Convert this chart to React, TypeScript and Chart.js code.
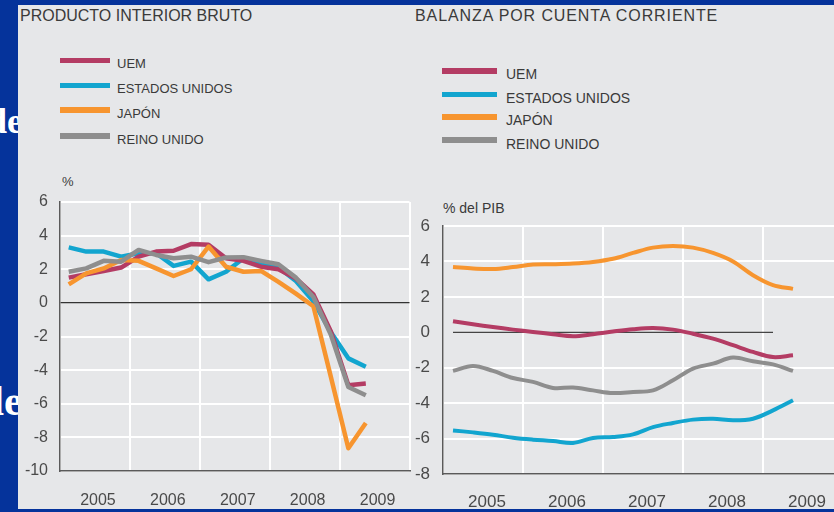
import React, { useEffect, useRef } from 'react';
import { Chart, registerables } from 'chart.js';

Chart.register(...registerables);

// ---------- data ----------
const yearLabels = ['2005', '2006', '2007', '2008', '2009'];
const seriesNames = ['UEM', 'ESTADOS UNIDOS', 'JAPÓN', 'REINO UNIDO'];
const seriesColors = ['#b43c64', '#12a5cf', '#f7952f', '#8e8e8e'];

// Producto interior bruto, % (trimestral, 2005 T1 - 2009 T2)
const pibUEM = [1.5, 1.7, 1.9, 2.1, 2.75, 3.05, 3.1, 3.5, 3.45, 2.65, 2.5, 2.15, 2.0, 1.45, 0.5, -1.7, -4.9, -4.8];
const pibEEUU = [3.3, 3.05, 3.05, 2.75, 2.95, 2.95, 2.2, 2.45, 1.4, 1.85, 2.65, 2.4, 2.1, 1.3, 0.1, -1.75, -3.3, -3.8];
const pibJapon = [1.1, 1.75, 2.05, 2.55, 2.5, 2.05, 1.6, 2.0, 3.35, 2.15, 1.85, 1.9, 1.25, 0.55, -0.2, -4.4, -8.65, -7.15];
const pibReinoUnido = [1.85, 2.05, 2.5, 2.45, 3.15, 2.85, 2.65, 2.75, 2.42, 2.7, 2.72, 2.5, 2.3, 1.5, 0.35, -1.9, -5.0, -5.5];

// Balanza por cuenta corriente, % del PIB
const cuentaUEM = [0.62, 0.45, 0.3, 0.15, 0.02, -0.11, -0.22, -0.11, 0.04, 0.17, 0.24, 0.15, -0.08, -0.36, -0.73, -1.11, -1.4, -1.3];
const cuentaEEUU = [-5.54, -5.65, -5.78, -5.95, -6.06, -6.14, -6.25, -5.97, -5.91, -5.76, -5.35, -5.12, -4.93, -4.88, -4.97, -4.88, -4.41, -3.84];
const cuentaJapon = [3.68, 3.6, 3.57, 3.68, 3.82, 3.84, 3.88, 3.97, 4.15, 4.48, 4.78, 4.87, 4.78, 4.48, 4.0, 3.22, 2.66, 2.45];
const cuentaReinoUnido = [-2.18, -1.9, -2.18, -2.58, -2.8, -3.14, -3.12, -3.28, -3.43, -3.37, -3.28, -2.71, -2.05, -1.77, -1.43, -1.64, -1.81, -2.18];
const cuentaLineaCero = [0, 0, 0, 0, 0, 0, 0, 0, 0, 0, 0, 0, 0, 0, 0, 0, 0];

const pibYRange = [-10, 6];
const cuentaYRange = [-8, 6];
const quartersShown = 20;

// ---------- styles ----------
const NAVY = '#05339b';
const PANEL = '#e6e7e9';
const TEXT = '#3a3a3a';
const TICK = '#4a4a4a';
const AXIS = '#5a5a5a';
const FONT = '"Liberation Sans", Arial, Helvetica, sans-serif';

Chart.defaults.font.family = FONT;

function makeDatasets(series: number[][], width: number, tension: number) {
  const drawOrder = [3, 4, 2, 1];
  return series.map((vals, k) => ({
    label: seriesNames[k],
    data: vals.map((v, i) => ({ x: i + 0.5, y: v })),
    borderColor: seriesColors[k],
    backgroundColor: seriesColors[k],
    borderWidth: width,
    pointRadius: 0,
    pointHoverRadius: 0,
    pointBorderWidth: 0,
    tension,
    order: drawOrder[k],
    borderJoinStyle: 'round',
    fill: false,
  }));
}

type Opt = {
  yMin: number;
  yMax: number;
  zeroColor: string;
  zeroWidth: number;
  fontSize: number;
  yWidth: number;
  xHeight: number;
  xPad: number;
  yPad: number;
  padRight: number;
  labelOffset: number;
};

function clearPadding(s: any) {
  s.paddingTop = 0;
  s.paddingBottom = 0;
  s.paddingLeft = 0;
  s.paddingRight = 0;
}

function makeOptions(p: Opt) {
  return {
    responsive: false,
    maintainAspectRatio: false,
    animation: false,
    events: [],
    layout: { autoPadding: false, padding: { top: 12, right: p.padRight, bottom: 0, left: 0 } },
    plugins: {
      legend: { display: false },
      tooltip: { enabled: false },
      title: { display: false },
    },
    scales: {
      x: {
        type: 'linear',
        min: 0,
        max: quartersShown,
        afterFit: (s: any) => {
          s.height = p.xHeight;
          clearPadding(s);
        },
        grid: {
          color: (ctx: any) => (ctx.tick && ctx.tick.value % 4 === 0 ? '#ffffff' : 'rgba(0,0,0,0)'),
          lineWidth: 2,
          drawTicks: false,
        },
        border: { display: true, color: AXIS, width: 1.5 },
        ticks: {
          stepSize: 2,
          autoSkip: false,
          maxRotation: 0,
          minRotation: 0,
          padding: p.xPad,
          labelOffset: p.labelOffset,
          color: TICK,
          font: { size: p.fontSize },
          callback: (value: any) => {
            const v = Number(value);
            return v % 4 === 2 ? yearLabels[(v - 2) / 4] : '';
          },
        },
      },
      y: {
        type: 'linear',
        min: p.yMin,
        max: p.yMax,
        afterFit: (s: any) => {
          s.width = p.yWidth;
          clearPadding(s);
        },
        grid: {
          color: (ctx: any) => (ctx.tick && ctx.tick.value === 0 ? p.zeroColor : '#ffffff'),
          lineWidth: (ctx: any) => (ctx.tick && ctx.tick.value === 0 ? p.zeroWidth : 2),
          drawTicks: false,
        },
        border: { display: true, color: AXIS, width: 1.5 },
        ticks: {
          stepSize: 2,
          autoSkip: false,
          padding: p.yPad,
          color: TICK,
          font: { size: p.fontSize },
        },
      },
    },
  };
}

function ChartCanvas(props: { config: () => any; left: number; top: number; width: number; height: number }) {
  const ref = useRef<HTMLCanvasElement | null>(null);
  useEffect(() => {
    if (!ref.current) return;
    const chart = new Chart(ref.current, props.config());
    return () => chart.destroy();
  }, []);
  return (
    <canvas
      ref={ref}
      width={props.width}
      height={props.height}
      style={{ position: 'absolute', left: props.left, top: props.top, width: props.width, height: props.height }}
    />
  );
}

function Legend(props: { x: number; textX: number; centers: number[]; capMids: number[]; swatchW: number; fontSize: number }) {
  const capOffset = props.fontSize === 14 ? 6.84 : 6.35;
  return (
    <>
      {seriesNames.map((name, k) => (
        <React.Fragment key={name}>
          <div
            style={{
              position: 'absolute',
              left: props.x,
              top: props.centers[k] - 2.8,
              width: props.swatchW,
              height: 5.6,
              background: seriesColors[k],
            }}
          />
          <div
            style={{
              position: 'absolute',
              left: props.textX,
              top: props.capMids[k] - capOffset,
              fontSize: props.fontSize,
              lineHeight: props.fontSize + 'px',
              color: TEXT,
              whiteSpace: 'nowrap',
            }}
          >
            {name}
          </div>
        </React.Fragment>
      ))}
    </>
  );
}

export default function App() {
  const pibConfig = () => ({
    type: 'line',
    data: { datasets: makeDatasets([pibUEM, pibEEUU, pibJapon, pibReinoUnido], 4.5, 0) },
    options: makeOptions({
      yMin: pibYRange[0],
      yMax: pibYRange[1],
      zeroColor: '#333333',
      zeroWidth: 1.2,
      fontSize: 16,
      yWidth: 42,
      xHeight: 38,
      xPad: 20,
      yPad: 12,
      padRight: 2.5,
      labelOffset: 3,
    }),
  });

  const cuentaConfig = () => {
    const ds: any[] = makeDatasets([cuentaUEM, cuentaEEUU, cuentaJapon, cuentaReinoUnido], 4, 0.35);
    ds.push({
      label: 'cero',
      data: cuentaLineaCero.map((v, i) => ({ x: i + 0.5, y: v })),
      borderColor: '#444444',
      borderWidth: 1.2,
      pointRadius: 0,
      pointBorderWidth: 0,
      tension: 0,
      order: 10,
      fill: false,
    });
    return {
      type: 'line',
      data: { datasets: ds },
      options: makeOptions({
        yMin: cuentaYRange[0],
        yMax: cuentaYRange[1],
        zeroColor: 'rgba(0,0,0,0)',
        zeroWidth: 0,
        fontSize: 17,
        yWidth: 32,
        xHeight: 35,
        xPad: 18,
        yPad: 13,
        padRight: 8,
        labelOffset: 4,
      }),
    };
  };

  return (
    <div
      style={{
        position: 'fixed',
        left: 0,
        top: 0,
        width: 834,
        height: 512,
        overflow: 'hidden',
        background: NAVY,
        fontFamily: FONT,
      }}
    >
      <div
        style={{
          position: 'absolute',
          left: -13,
          top: 103,
          fontFamily: '"Liberation Serif", "DejaVu Serif", serif',
          fontWeight: 'bold',
          fontSize: 36,
          lineHeight: '36px',
          color: '#ffffff',
          whiteSpace: 'nowrap',
        }}
      >
        de
      </div>
      <div
        style={{
          position: 'absolute',
          left: -19.4,
          top: 380,
          fontFamily: '"Liberation Serif", "DejaVu Serif", serif',
          fontWeight: 'bold',
          fontSize: 42,
          lineHeight: '42px',
          color: '#ffffff',
          whiteSpace: 'nowrap',
        }}
      >
        de
      </div>

      <div style={{ position: 'absolute', left: 18, top: 5, width: 816, height: 504, background: PANEL }} />

      <div style={{ position: 'absolute', left: 20, top: 8, fontSize: 16, lineHeight: '16px', color: TEXT, whiteSpace: 'nowrap' }}>
        PRODUCTO INTERIOR BRUTO
      </div>
      <div
        style={{
          position: 'absolute',
          left: 415,
          top: 8,
          fontSize: 16,
          lineHeight: '16px',
          letterSpacing: '0.9px',
          color: TEXT,
          whiteSpace: 'nowrap',
        }}
      >
        BALANZA POR CUENTA CORRIENTE
      </div>

      <Legend x={60} textX={117} centers={[60.5, 85.5, 110, 136]} capMids={[63, 88.5, 113.5, 139]} swatchW={50} fontSize={13} />
      <Legend x={442} textX={506} centers={[71, 94.5, 117, 140]} capMids={[74, 98, 120, 143.5]} swatchW={55} fontSize={14} />

      <div style={{ position: 'absolute', left: 62, top: 175, fontSize: 13, lineHeight: '13px', color: TEXT }}>%</div>
      <div style={{ position: 'absolute', left: 443, top: 200.7, fontSize: 14, lineHeight: '14px', color: TEXT, whiteSpace: 'nowrap' }}>
        % del PIB
      </div>

      <ChartCanvas config={pibConfig} left={18} top={190} width={394} height={319} />
      <ChartCanvas config={cuentaConfig} left={411} top={214} width={440} height={295} />
    </div>
  );
}
